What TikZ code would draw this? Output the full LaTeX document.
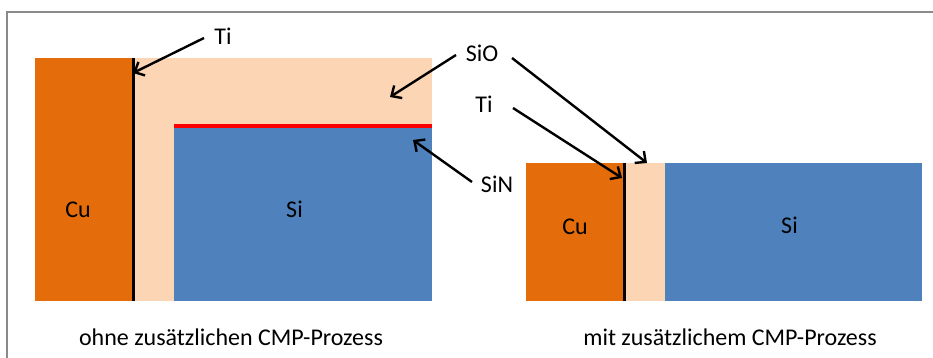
\documentclass[tikz,border=0pt]{standalone}
\usepackage{fontspec}
\setmainfont{Carlito}
\usetikzlibrary{arrows.meta}
\definecolor{cucol}{HTML}{E46C0A}
\definecolor{siocol}{HTML}{FCD5B5}
\definecolor{sicol}{HTML}{4F81BD}
\definecolor{sincol}{HTML}{FF0000}
\definecolor{framecol}{HTML}{8A8A8A}
\begin{document}
\begin{tikzpicture}[x=1pt,y=-1pt,
  lbl/.style={inner sep=0pt, anchor=base, font=\fontsize{24}{28}\selectfont},
  ptr/.style={line width=2.4pt, -{Straight Barb[length=8pt,width=15pt,line width=2.4pt]}},
  tiline/.style={line width=3pt}]
\useasboundingbox (0,0) rectangle (933,358);
\draw[framecol, line width=2.5pt] (7,360) -- (7,12) -- (935,12);
% left structure
\fill[siocol] (132,58) rectangle (432,301);
\fill[cucol] (35,58) rectangle (132,301);
\fill[sicol] (174,127.5) rectangle (432,301);
\fill[sincol] (174,124) rectangle (432,128);
\draw[tiline] (133.5,58) -- (133.5,301);
% right structure
\fill[cucol] (526,163) rectangle (624,301);
\fill[siocol] (624,163) rectangle (664.5,301);
\fill[sicol] (664.5,163) rectangle (922,301);
\draw[tiline] (624.5,163) -- (624.5,301);
% material labels
\node[lbl] (cuL) at (78,217) {Cu};
\node[lbl] (siL) at (294.5,217) {Si};
\node[lbl] (cuR) at (575,234) {Cu};
\node[lbl] (siR) at (789.5,233) {Si};
% pointer labels
\node[lbl] (ti1) at (223,45) {Ti};
\node[lbl] (sio) at (482,62) {SiO};
\node[lbl] (ti2) at (484,113) {Ti};
\node[lbl] (sin) at (497,192) {SiN};
% captions
\node[lbl] (capL) at (231,345) {ohne zusätzlichen CMP-Prozess};
\node[lbl] (capR) at (730,345) {mit zusätzlichem CMP-Prozess};
% arrow ends
\coordinate (ti1s) at (204,38);
\coordinate (ti1e) at (133,73);
\coordinate (sio1s) at (456,55);
\coordinate (sio1e) at (390,97);
\coordinate (sio2s) at (512,58);
\coordinate (sio2e) at (647,163);
\coordinate (ti2s) at (513,108);
\coordinate (ti2e) at (622,178);
\coordinate (sins) at (472,182);
\coordinate (sine) at (413,140);
\draw[ptr] (ti1s) -- (ti1e);
\draw[ptr] (sio1s) -- (sio1e);
\draw[ptr] (sio2s) -- (sio2e);
\draw[ptr] (ti2s) -- (ti2e);
\draw[ptr] (sins) -- (sine);
\end{tikzpicture}
\end{document}
